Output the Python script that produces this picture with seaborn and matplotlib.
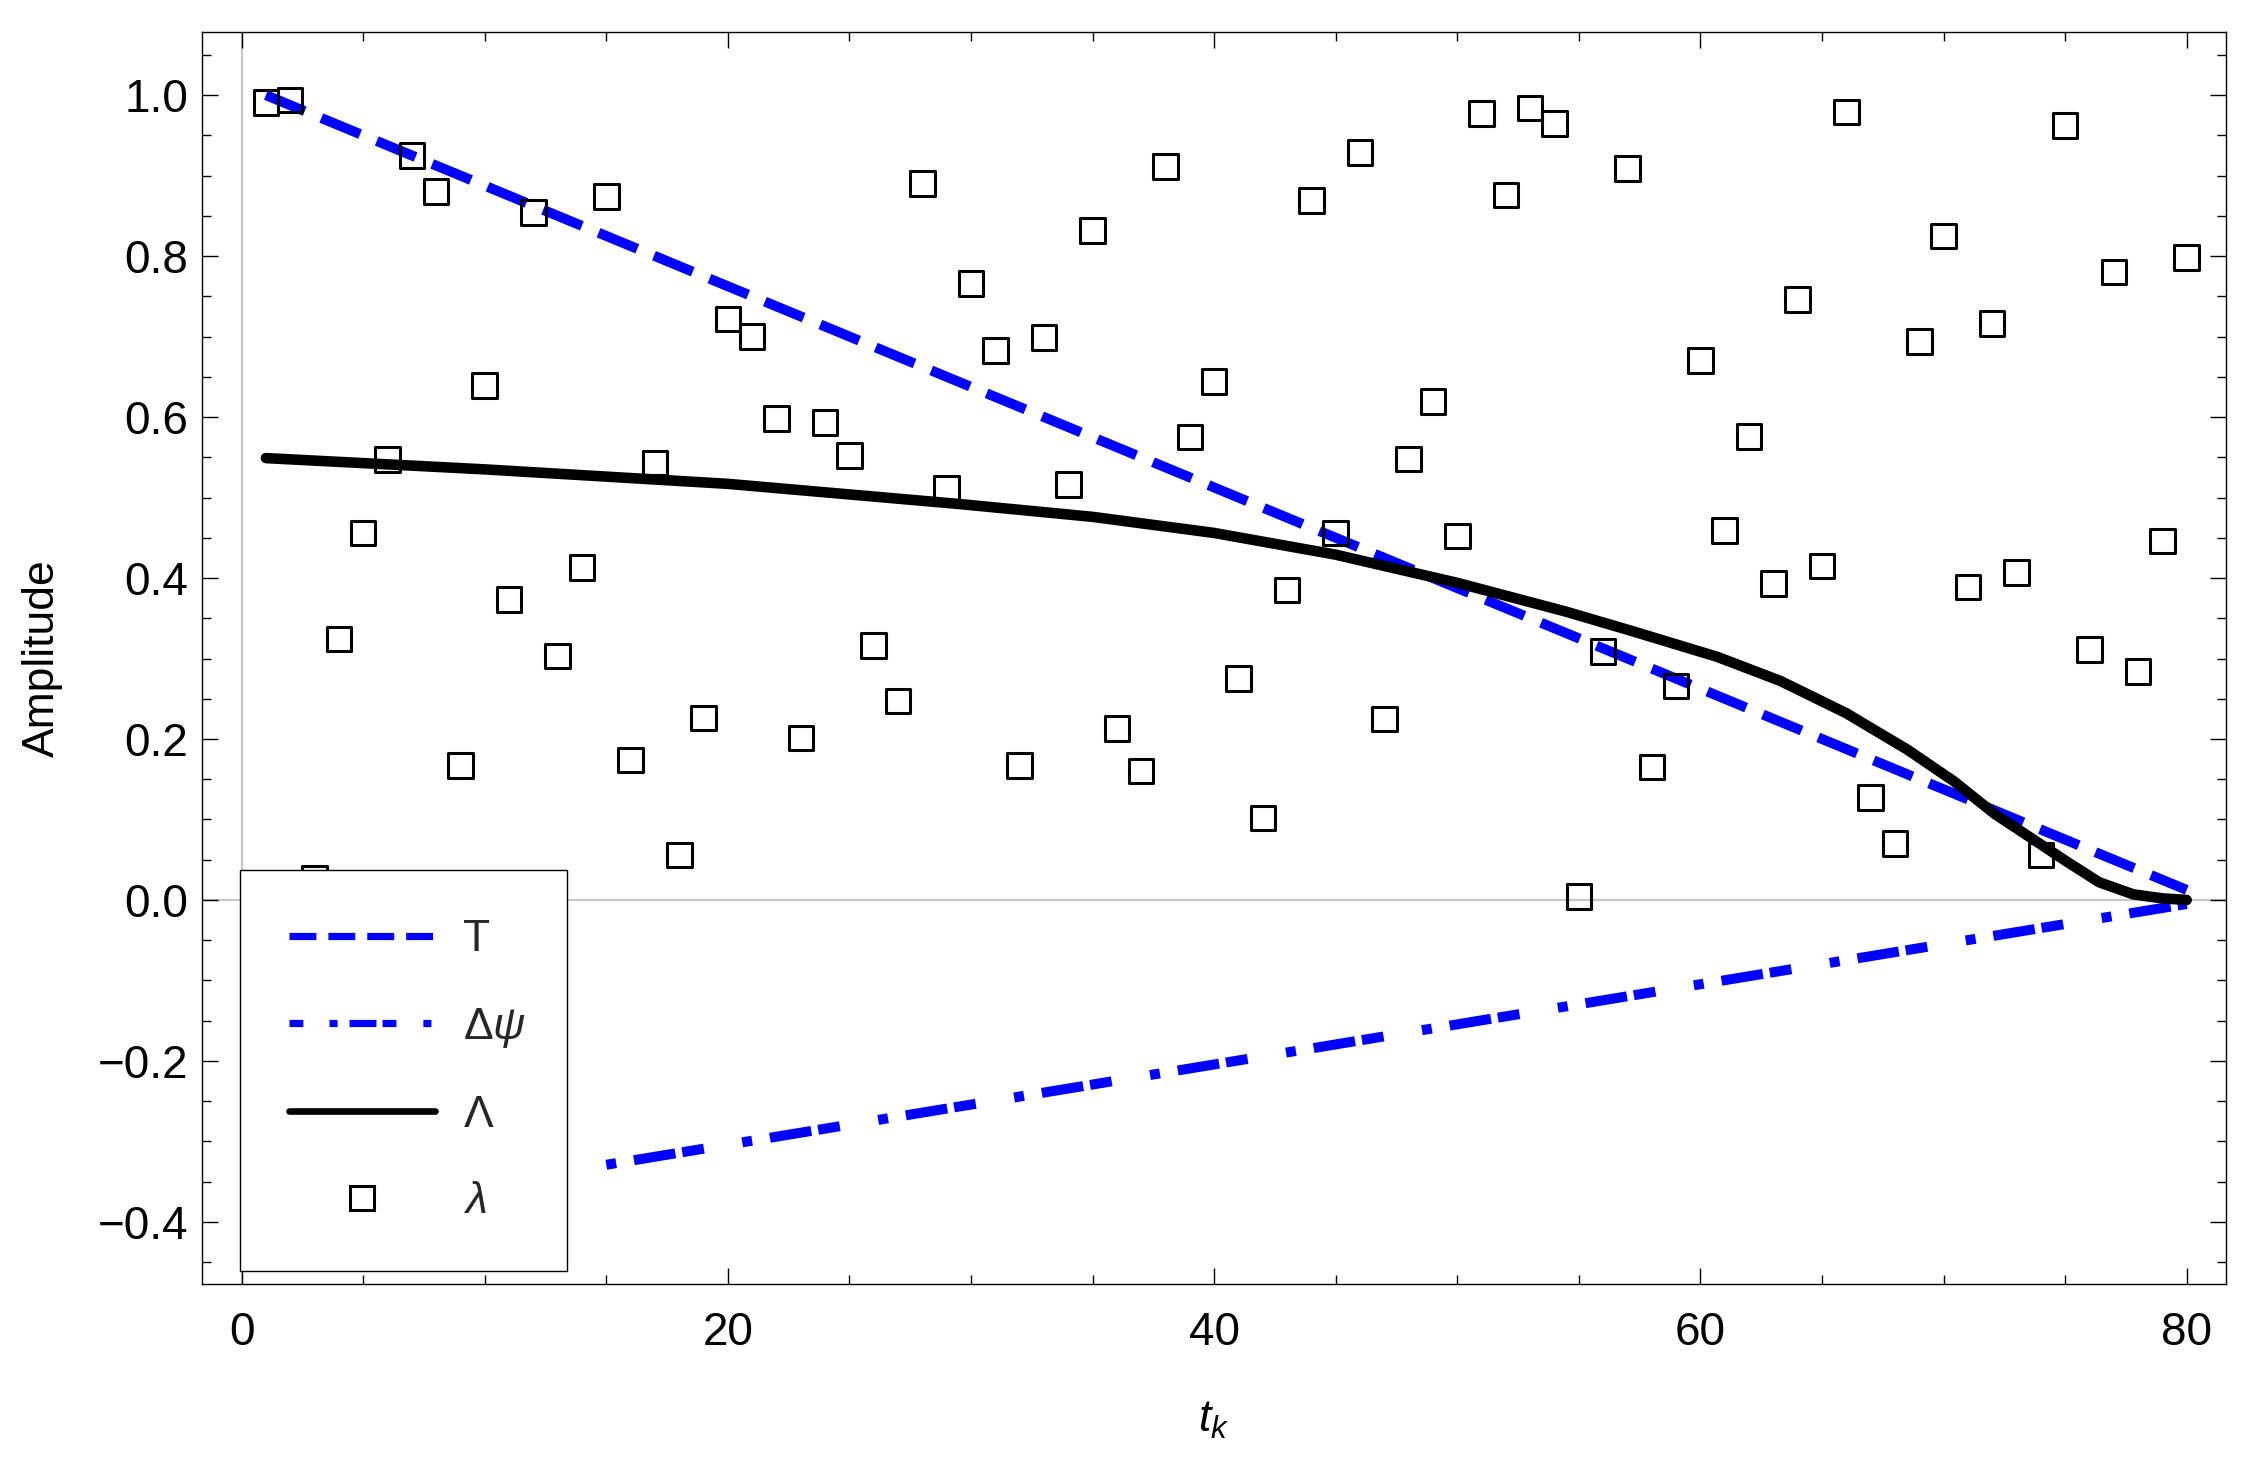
"""
Amplitude of T, delta psi, Lambda and the sampled lambda values against t_k
"""

import matplotlib
matplotlib.use("Agg")
import matplotlib.pyplot as plt
from matplotlib.lines import Line2D
from matplotlib.ticker import MultipleLocator, FuncFormatter
import seaborn as sns


# scattered lambda values, one per sample t_k = 1..80
t_k = list(range(1, 81))
lam = [0.991, 0.994, 0.027, 0.324, 0.456, 0.547, 0.925, 0.880, 0.167, 0.639,
       0.373, 0.854, 0.303, 0.413, 0.874, 0.174, 0.543, 0.056, 0.226, 0.722,
       0.700, 0.598, 0.201, 0.593, 0.552, 0.316, 0.247, 0.890, 0.512, 0.766,
       0.683, 0.167, 0.699, 0.516, 0.832, 0.213, 0.160, 0.911, 0.575, 0.644,
       0.275, 0.102, 0.385, 0.869, 0.456, 0.929, 0.225, 0.548, 0.619, 0.452,
       0.977, 0.876, 0.984, 0.965, 0.004, 0.309, 0.909, 0.165, 0.266, 0.670,
       0.459, 0.576, 0.393, 0.746, 0.415, 0.979, 0.127, 0.070, 0.694, 0.825,
       0.389, 0.716, 0.407, 0.056, 0.962, 0.311, 0.780, 0.284, 0.446, 0.798]

# T and delta psi are straight lines (end points)
T_t = [1, 80]
T_v = [1.0, 0.0125]
dpsi_t = [15, 80]
dpsi_v = [-0.329, -0.005]

# Lambda curve, points
Lam_t = [1, 10, 20, 29.5, 35, 40, 45, 50, 54.5, 57.2, 60.7, 63.3, 66, 68.5,
         70.4, 72.1, 73.7, 75.1, 76.4, 77.8, 79, 80]
Lam_v = [0.549, 0.535, 0.517, 0.492, 0.476, 0.456, 0.429, 0.394, 0.358, 0.334,
         0.302, 0.272, 0.232, 0.187, 0.148, 0.107, 0.075, 0.047, 0.022, 0.007,
         0.002, 0.0]

legend_labels = ["T", r"$\Delta\psi$", r"$\Lambda$", r"$\lambda$"]


sns.set_theme(style="ticks")
plt.rcParams["font.family"] = ["Liberation Sans", "DejaVu Sans"]
plt.rcParams["mathtext.fontset"] = "custom"
plt.rcParams["mathtext.rm"] = "Liberation Sans"
plt.rcParams["mathtext.it"] = "Liberation Sans:italic"
plt.rcParams["lines.scale_dashes"] = False

fig = plt.figure(figsize=(11.3, 7.315), dpi=200, facecolor="white")
ax = fig.add_axes([0.0892, 0.1221, 0.8958, 0.8558])

# light gray axes through the origin
ax.axhline(0, color="#c8c8c8", lw=0.8, zorder=0.5)
ax.axvline(0, color="#c8c8c8", lw=0.8, zorder=0.5)

# T: blue dashed
sns.lineplot(x=T_t, y=T_v, ax=ax, color="blue", lw=3.6)
ln = ax.lines[-1]
ln.set_dashes((15.1, 6.5))
ln.set_dash_capstyle("butt")

# delta psi: blue dot-dashed
sns.lineplot(x=dpsi_t, y=dpsi_v, ax=ax, color="blue", lw=3.6)
ln = ax.lines[-1]
ln.set_dashes((3.6, 6.5, 15.1, 2.5, 7.9, 14.0))
ln.set_dash_capstyle("butt")

# Lambda: black solid
sns.lineplot(x=Lam_t, y=Lam_v, ax=ax, color="black", lw=3.8)
ax.lines[-1].set_solid_joinstyle("round")

# lambda: open squares
sns.scatterplot(x=t_k, y=lam, ax=ax, marker="s", s=78, color="black",
                linewidth=1.1, zorder=6)
pts = ax.collections[-1]
pts.set_facecolor("none")
pts.set_edgecolor("black")

ax.set_xlim(-1.645, 81.62)
ax.set_ylim(-0.4776, 1.078)

ax.xaxis.set_major_locator(MultipleLocator(20))
ax.xaxis.set_minor_locator(MultipleLocator(5))
ax.yaxis.set_major_locator(MultipleLocator(0.2))
ax.yaxis.set_minor_locator(MultipleLocator(0.05))


def fmt_y(v, pos):
    if abs(v) < 1e-9:
        v = 0.0
    return f"{v:.1f}".replace("-", "\u2212")


ax.yaxis.set_major_formatter(FuncFormatter(fmt_y))

ax.tick_params(which="both", direction="in", top=True, right=True,
               bottom=True, left=True, color="black", width=0.5)
ax.tick_params(which="major", length=5.6)
ax.tick_params(which="minor", length=3.3)
ax.tick_params(axis="y", which="major", pad=4.8, labelsize=16.5, labelcolor="black")
ax.tick_params(axis="x", which="major", pad=9.6, labelsize=16.5, labelcolor="black")

for sp in ax.spines.values():
    sp.set_color("black")
    sp.set_linewidth(0.5)

ax.set_ylabel("Amplitude", fontsize=16, color="black")
ax.yaxis.set_label_coords(-0.0687, 0.5)
ax.set_xlabel(r"$t_k$", fontsize=16, color="black")
ax.xaxis.set_label_coords(0.5, -0.092)

# legend built by hand, Mathematica draws thinner lines in it
handles = [
    Line2D([], [], color="blue", lw=2.6, dashes=(9.7, 4.3), dash_capstyle="butt"),
    Line2D([], [], color="blue", lw=2.6,
           dashes=(5.0, 9.4, 2.9, 4.3, 9.7, 2.2, 5.0, 9.7, 2.9, 7.2),
           dash_capstyle="butt"),
    Line2D([], [], color="black", lw=2.4),
    Line2D([], [], ls="none", marker="s", ms=8.6, mfc="none", mec="black", mew=1.1),
]
leg = ax.legend(handles, legend_labels, loc="lower left",
                bbox_to_anchor=(0.0189, 0.0106, 0.1614, 0.32), mode="expand",
                borderaxespad=0, borderpad=1.1, labelspacing=1.02,
                handlelength=3.3, handletextpad=0.61, fontsize=16,
                frameon=True, fancybox=False, framealpha=1, numpoints=1)
leg.get_frame().set_edgecolor("black")
leg.get_frame().set_linewidth(0.5)
leg.set_zorder(10)

fig.savefig("out.png", dpi=200, facecolor="white")
